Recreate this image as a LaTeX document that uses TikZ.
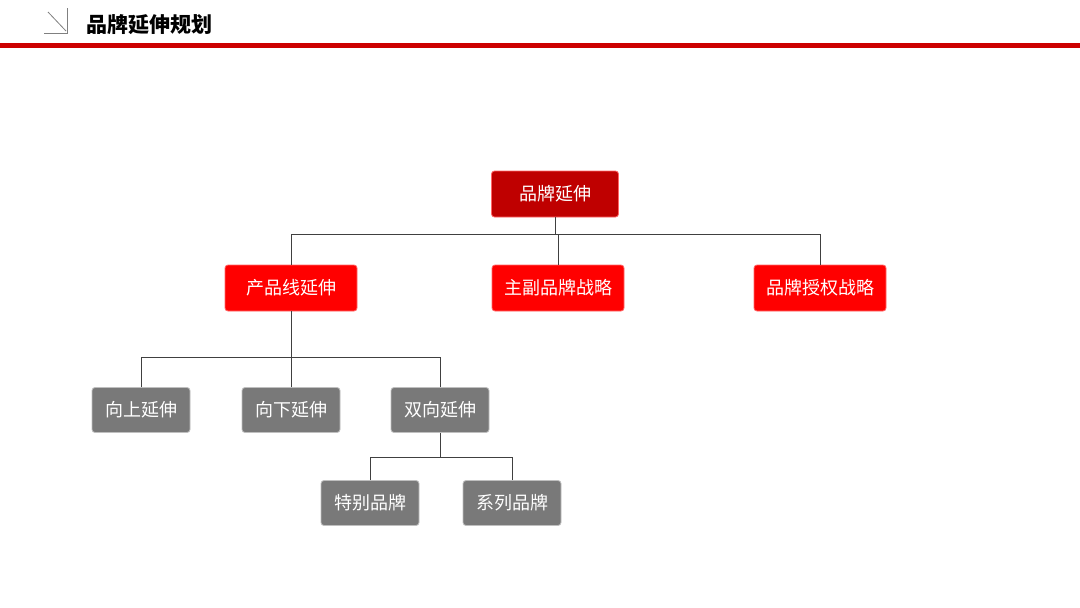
\documentclass[tikz,border=0pt]{standalone}
\usepackage{fontspec}
\setmainfont{Noto Sans CJK SC}
\newfontfamily\cjkb{Noto Sans CJK SC Bold}
\begin{document}
\begin{tikzpicture}[x=1pt,y=-1pt,
 box/.style={rounded corners=3pt,text=white,font=\fontsize{18}{20}\selectfont,inner sep=0pt,draw=#1!60!white,line width=0.8pt},
 redbox/.style={box=red,fill=red,minimum width=132pt,minimum height=46pt},
 rootbox/.style={box=red,fill=red!75!black,minimum width=127pt,minimum height=46pt},
 graybox/.style={box=gray,fill=gray!95!black,draw=gray!50!white,minimum width=98pt,minimum height=45pt},
 conn/.style={draw=black!75,line width=0.8pt}]
\useasboundingbox (0,0) rectangle (1080,608);
\fill[white] (0,0) rectangle (1080,608);
% header
\draw[gray,line width=0.8pt] (44,33) -- (67,33) -- (67,8);
\draw[gray,line width=0.8pt] (48,12) -- (66,31);
\node[anchor=west,font=\fontsize{21}{24}\selectfont\bfseries] (title) at (83,25) {品牌延伸规划};
\fill[red!80!black] (0,43) rectangle (1080,48);
% nodes
\node[rootbox] (root) at (555,194) {品牌延伸};
\node[redbox] (a) at (291,288) {产品线延伸};
\node[redbox] (b) at (558,288) {主副品牌战略};
\node[redbox] (c) at (820,288) {品牌授权战略};
\node[graybox] (a1) at (141,410) {向上延伸};
\node[graybox] (a2) at (291,410) {向下延伸};
\node[graybox] (a3) at (440,410) {双向延伸};
\node[graybox] (s1) at (370,503) {特别品牌};
\node[graybox] (s2) at (512,503) {系列品牌};
% connectors
\coordinate (j1) at (555,234);
\draw[conn] (root.south) -- (j1);
\draw[conn] (a.north) -- (a.north |- j1) -- (c.north |- j1) -- (c.north);
\draw[conn] (b.north) -- (b.north |- j1);
\coordinate (j2) at (291,357);
\draw[conn] (a.south) -- (j2);
\draw[conn] (a1.north) -- (a1.north |- j2) -- (a3.north |- j2) -- (a3.north);
\draw[conn] (a2.north) -- (j2);
\coordinate (j3) at (440,457);
\draw[conn] (a3.south) -- (j3);
\draw[conn] (s1.north) -- (s1.north |- j3) -- (s2.north |- j3) -- (s2.north);
\end{tikzpicture}
\end{document}
